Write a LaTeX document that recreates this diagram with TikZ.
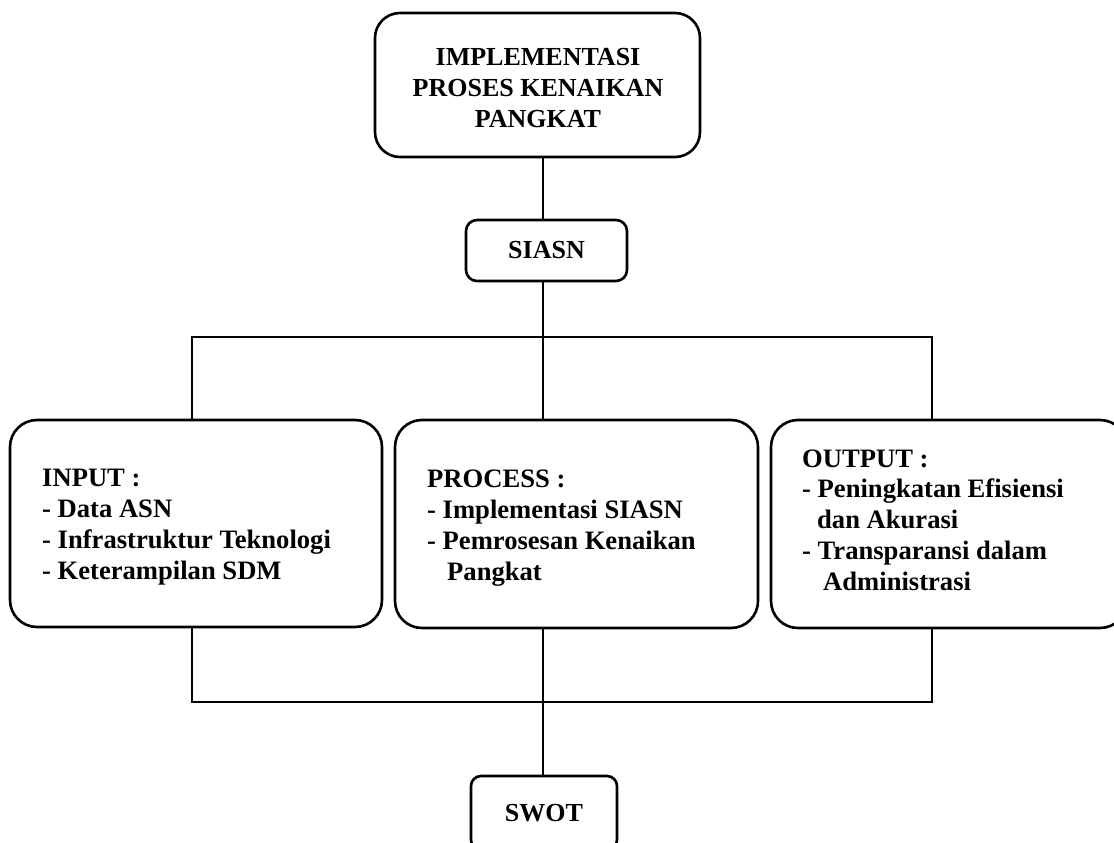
\documentclass[tikz,border=0pt]{standalone}
\usepackage{fontspec}
\setmainfont{Liberation Serif}
\begin{document}
\begin{tikzpicture}[x=1pt,y=-1pt,
  bigbox/.style={draw, line width=2.6pt, rounded corners=27pt, inner sep=0pt},
  smallbox/.style={draw, line width=2.6pt, rounded corners=11pt, inner sep=0pt,
    font=\fontsize{26}{30.7}\selectfont\bfseries},
  txt/.style={inner sep=0pt, font=\fontsize{26}{30.7}\selectfont\bfseries},
  boxtxt/.style={inner sep=0pt, font=\fontsize{26.6}{30.7}\selectfont\bfseries},
  conn/.style={line width=2pt}]
\useasboundingbox (0,0) rectangle (1114,843);
\clip (0,0) rectangle (1114,843);

% boxes
\node[bigbox, rounded corners=25pt, minimum width=325pt, minimum height=144pt] (top) at (537.5,85) {};
\node[smallbox, minimum width=161pt, minimum height=61pt] (siasn) at (546.5,250.5) {SIASN};
\node[bigbox, minimum width=372pt, minimum height=207pt] (inbox) at (196,523.5) {};
\node[bigbox, minimum width=363pt, minimum height=208pt] (procbox) at (576.5,524) {};
\node[bigbox, minimum width=356pt, minimum height=208pt] (outbox) at (949,524) {};
\node[smallbox, rounded corners=10pt, minimum width=146pt, minimum height=74pt] (swot) at (544,813) {SWOT};

% texts (base anchor = baseline of the last line)
\node[txt, anchor=base, align=center] (toptext) at (538,127) {IMPLEMENTASI\\PROSES KENAIKAN\\PANGKAT};
\node[boxtxt, anchor=base west, align=left] (intext) at (42,579) {INPUT :\\- Data ASN\\- Infrastruktur Teknologi\\- Keterampilan SDM};
\node[boxtxt, anchor=base west, align=left] (proctext) at (427,580) {PROCESS :\\- Implementasi SIASN\\- Pemrosesan Kenaikan\\\hspace*{20pt}Pangkat};
\node[boxtxt, anchor=base west, align=left] (outtext) at (802,590) {OUTPUT :\\- Peningkatan Efisiensi\\\hspace*{15pt}dan Akurasi\\- Transparansi dalam\\\hspace*{21pt}Administrasi};

% connectors
\coordinate (sx) at (543,0);
\coordinate (jl) at (192,337);
\coordinate (jr) at (932,337);
\coordinate (bl) at (192,702);
\coordinate (bm) at (543,702);
\coordinate (br) at (932,702);
\draw[conn] (top.south -| sx) -- (siasn.north -| sx);
\draw[conn] (siasn.south -| sx) -- (procbox.north -| sx);
\draw[conn] (inbox.north -| jl) -- (jl) -- (jr) -- (outbox.north -| jr);
\draw[conn] (inbox.south -| bl) -- (bl) -- (br) -- (outbox.south -| br);
\draw[conn] (procbox.south -| bm) -- (bm) -- (swot.north -| bm);
\end{tikzpicture}
\end{document}
